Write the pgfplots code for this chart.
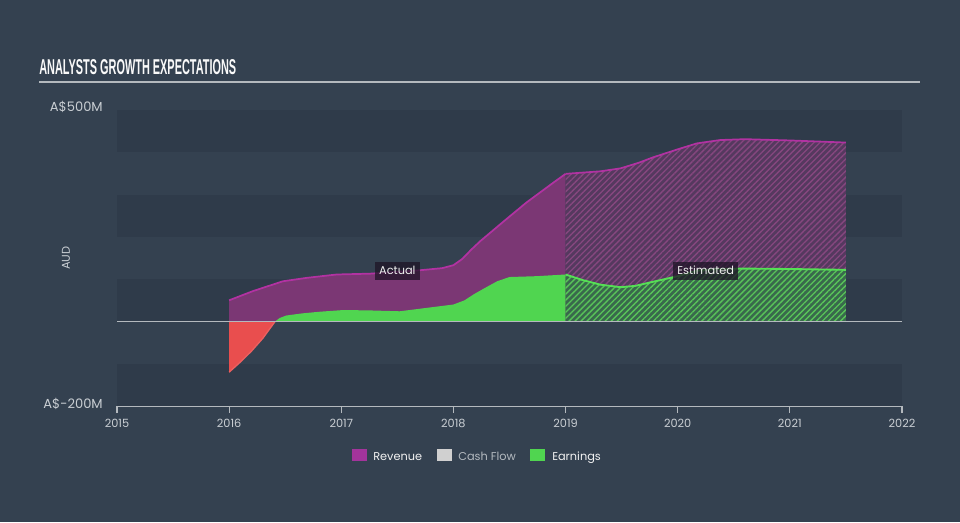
\documentclass[border=0pt]{standalone}
\usepackage{fontspec}
\setmainfont{Poppins}
\newfontfamily\titlefont{Liberation Sans}
\usepackage{pgfplots}
\pgfplotsset{compat=1.18}
\usetikzlibrary{patterns.meta}
\definecolor{bg}{HTML}{344150}
\definecolor{banddark}{HTML}{2F3B4A}
\definecolor{axisc}{HTML}{B4B9BE}
\definecolor{tickc}{HTML}{C9CED3}
\definecolor{revline}{HTML}{B232A2}
\definecolor{revfill}{HTML}{7B3774}
\definecolor{revleg}{HTML}{A3349B}
\definecolor{earnfill}{HTML}{50D550}
\definecolor{earnline}{HTML}{55E055}
\definecolor{redfill}{HTML}{E94E4E}
\definecolor{cashc}{HTML}{D0D0D0}
\definecolor{boxc}{HTML}{1E1426}

\pgfplotstableread{
x y
2016.0 50
2016.215 72
2016.48 95
2016.69 103
2016.96 111
2017.26 113
2017.70 121
2017.9 126
2018.0 133
2018.08 148
2018.16 170
2018.24 190
2018.45 237
2018.65 281
2018.89 328
2019.0 349
}\revact

\pgfplotstableread{
x y
2019.0 349
2019.31 355
2019.49 362
2019.65 375
2019.78 388
2020.0 407
2020.17 421
2020.38 429
2020.6 431
2021.0 428
2021.5 423
}\revest

\pgfplotstableread{
x y
2016.41 0
2016.45 8
2016.51 14
2016.65 19
2016.81 23
2017.02 27
2017.26 26
2017.52 24
2017.76 32
2018.0 40
2018.1 50
2018.18 64
2018.3 82
2018.39 95
2018.5 105
2018.74 107
2019.0 111
}\earnact

\pgfplotstableread{
x y
2019.0 111
2019.15 98
2019.31 87
2019.49 81
2019.62 84
2019.75 92
2020.0 107
2020.17 120
2020.35 124
2020.6 125
2021.0 124
2021.5 122
}\earnest

\pgfplotstableread{
x y
2016.0 -120
2016.1 -96
2016.2 -70
2016.3 -40
2016.41 0
}\earnneg

\begin{document}
\begin{tikzpicture}[x=0.75pt,y=0.75pt]
\fill[bg] (0,0) rectangle (960,522);
% title
\node[anchor=base west, inner sep=0pt, text=white!95!gray] at (39,447) {\resizebox{147.75pt}{11.25pt}{\titlefont\bfseries ANALYSTS GROWTH EXPECTATIONS}};
\draw[axisc, line width=1.5] (39,440) -- (920,440);
% y labels
\node[anchor=east, inner sep=0pt, text=tickc, font=\fontsize{9.8}{11}\selectfont] at (103,415) {A\$500M};
\node[anchor=east, inner sep=0pt, text=tickc, font=\fontsize{9.8}{11}\selectfont] at (103,118) {A\$-200M};
\node[rotate=90, inner sep=0pt, text=tickc, font=\fontsize{8.5}{10}\selectfont] at (66,264) {AUD};

\begin{axis}[
  at={(87.75pt,87pt)}, anchor=south west,
  width=588.75pt, height=222pt, scale only axis,
  xmin=2015, xmax=2022, ymin=-200, ymax=500,
  axis x line*=bottom, axis y line=none,
  x axis line style={draw=axisc, line width=1.1pt, -},
  xtick={2015,2016,2017,2018,2019,2020,2021,2022},
  xtick align=outside, major tick length=5.25pt,
  tick style={draw=axisc, line width=0.8pt},
  /pgf/number format/1000 sep={},
  /pgf/number format/assume math mode=true,
  xticklabel style={font=\fontsize{8.5}{10}\selectfont, text=tickc, yshift=-1pt},
  ytick=\empty,
  clip=true,
]
% bands
\fill[banddark] (axis cs:2015,400) rectangle (axis cs:2022,500);
\fill[banddark] (axis cs:2015,200) rectangle (axis cs:2022,300);
\fill[banddark] (axis cs:2015,0) rectangle (axis cs:2022,100);
\fill[banddark] (axis cs:2015,-200) rectangle (axis cs:2022,-100);

% revenue
\addplot[forget plot, draw=none, fill=revfill] table {\revact} \closedcycle;
\addplot[forget plot, draw=none, fill=revfill!50!banddark] table {\revest} \closedcycle;
\addplot[forget plot, draw=none, pattern={Lines[angle=45, distance=3.2pt, line width=1pt]}, pattern color=revfill!92!white] table {\revest} \closedcycle;
% earnings
\addplot[forget plot, draw=none, fill=earnfill] table {\earnact} \closedcycle;
\addplot[forget plot, draw=none, fill=earnfill!30!banddark] table {\earnest} \closedcycle;
\addplot[forget plot, draw=none, pattern={Lines[angle=45, distance=3.2pt, line width=1pt]}, pattern color=earnfill!80!gray] table {\earnest} \closedcycle;
\addplot[forget plot, draw=none, fill=redfill] table {\earnneg} \closedcycle;
% lines
\addplot[forget plot, revline, line width=1.3pt] table {\revact};
\addplot[forget plot, revline, line width=1.3pt] table {\revest};
\addplot[forget plot, earnline, line width=1.4pt] table {\earnest};
\addplot[forget plot, redfill!90!white, line width=1pt] table {\earnneg};
% zero line
\draw[axisc, line width=1.1pt] (axis cs:2015,0) -- (axis cs:2022,0);
% labels
\node[fill=boxc, fill opacity=0.75, text opacity=1, text=white!88!gray, font=\fontsize{8.5}{10}\selectfont, inner xsep=3pt, inner ysep=3.5pt] at (axis cs:2017.5,120) {Actual};
\node[fill=boxc, fill opacity=0.75, text opacity=1, text=white!88!gray, font=\fontsize{8.5}{10}\selectfont, inner xsep=3pt, inner ysep=3.5pt] at (axis cs:2020.25,120) {Estimated};
\end{axis}

% legend
\fill[revleg] (352,61) rectangle (367,73);
\node[anchor=base west, inner sep=0pt, text=white!90!gray, font=\fontsize{8.5}{10}\selectfont] at (373,62) {Revenue};
\fill[cashc] (437,61) rectangle (452,73);
\node[anchor=base west, inner sep=0pt, text=tickc!85!bg, font=\fontsize{8.5}{10}\selectfont] at (458,62) {Cash Flow};
\fill[earnfill] (530,61) rectangle (545,73);
\node[anchor=base west, inner sep=0pt, text=white!90!gray, font=\fontsize{8.5}{10}\selectfont] at (552,62) {Earnings};
\end{tikzpicture}
\end{document}
